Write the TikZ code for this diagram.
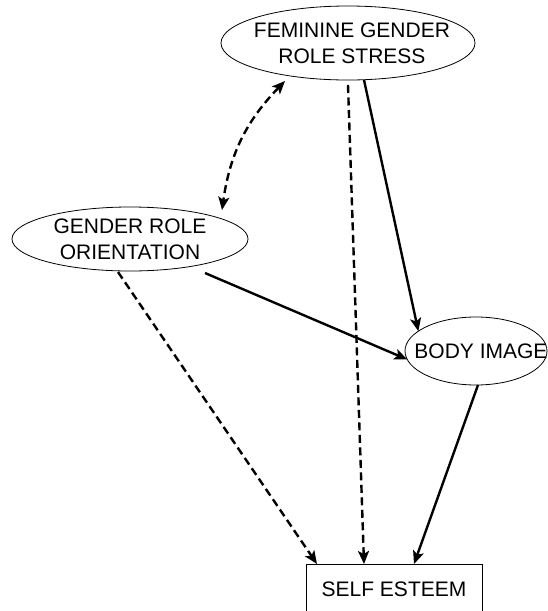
\documentclass[tikz,border=0pt]{standalone}
\usepackage{fontspec}
\setmainfont{Liberation Sans}
\usetikzlibrary{arrows.meta,shapes.geometric}

\begin{document}
\begin{tikzpicture}[
    x=1pt, y=-1pt,
    >={Stealth[length=13pt, width=11pt, inset=3pt]},
    construct/.style={draw=black, ellipse, line width=0.8pt, inner sep=0pt, outer sep=0pt},
    outcome/.style={draw=black, line width=0.8pt, minimum width=176pt, minimum height=50pt, outer sep=0pt, font=\fontsize{21}{26}\selectfont},
    lbl/.style={align=center, inner sep=0pt, font=\fontsize{21}{26}\selectfont},
    effect/.style={->, line width=2.4pt, draw=black},
    nulleffect/.style={effect, dash pattern=on 8pt off 4.5pt}
]
    \useasboundingbox (0,0) rectangle (548,611);
    \clip (0,0) rectangle (548,611);

    % Constructs
    \node[construct, minimum width=254pt, minimum height=74pt] (fgrs) at (348,43) {};
    \node[construct, minimum width=236pt, minimum height=64pt] (gro) at (130,239) {};
    \node[construct, minimum width=142pt, minimum height=68pt] (bi) at (476,351) {};
    \node[outcome] (se) at (394,589) {SELF ESTEEM};

    % Construct labels
    \node[lbl] (fgrs-txt) at ([xshift=4pt]fgrs.center) {FEMININE GENDER\\ROLE STRESS};
    \node[lbl] (gro-txt) at (gro.center) {GENDER ROLE\\ORIENTATION};
    \node[lbl] (bi-txt) at ([xshift=5pt]bi.center) {BODY IMAGE};

    % Paths
    \draw[nulleffect, <->] ([xshift=-63pt, yshift=-1pt]fgrs.south) to[bend right=18] ([xshift=92pt, yshift=-3pt]gro.north);
    \draw[nulleffect] ([yshift=-5pt]fgrs.south) -- ([xshift=-30pt]se.north);
    \draw[effect] ([xshift=16pt]fgrs.south) -- (bi.161);
    \draw[effect] ([xshift=75pt, yshift=-2pt]gro.south) -- (bi.187);
    \draw[nulleffect] ([xshift=-12pt, yshift=-1pt]gro.south) -- ([xshift=11pt]se.north west);
    \draw[effect] ([xshift=2pt]bi.south) -- ([xshift=20pt]se.north);

\end{tikzpicture}
\end{document}
